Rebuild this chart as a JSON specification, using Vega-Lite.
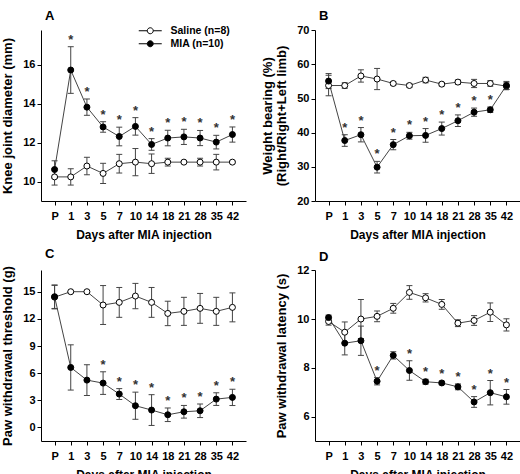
{
  "$schema": "https://vega.github.io/schema/vega-lite/v6.json",
  "padding": {"left": 1, "top": 9, "right": 0, "bottom": 0},
  "background": "white",
  "datasets": {
    "A": [
      {"day": "P", "group": "Saline (n=8)", "mean": 10.24, "lo": 9.82, "hi": 10.66, "sig": ""},
      {"day": "1", "group": "Saline (n=8)", "mean": 10.24, "lo": 9.82, "hi": 10.66, "sig": ""},
      {"day": "3", "group": "Saline (n=8)", "mean": 10.8, "lo": 10.35, "hi": 11.25, "sig": ""},
      {"day": "5", "group": "Saline (n=8)", "mean": 10.42, "lo": 9.9, "hi": 10.94, "sig": ""},
      {"day": "7", "group": "Saline (n=8)", "mean": 10.92, "lo": 10.44, "hi": 11.4, "sig": ""},
      {"day": "10", "group": "Saline (n=8)", "mean": 11.0, "lo": 10.3, "hi": 11.7, "sig": ""},
      {"day": "14", "group": "Saline (n=8)", "mean": 10.92, "lo": 10.42, "hi": 11.42, "sig": ""},
      {"day": "18", "group": "Saline (n=8)", "mean": 11.0, "lo": 10.8, "hi": 11.2, "sig": ""},
      {"day": "21", "group": "Saline (n=8)", "mean": 11.0, "lo": 10.95, "hi": 11.05, "sig": ""},
      {"day": "28", "group": "Saline (n=8)", "mean": 11.0, "lo": 10.8, "hi": 11.2, "sig": ""},
      {"day": "35", "group": "Saline (n=8)", "mean": 11.0, "lo": 10.6, "hi": 11.4, "sig": ""},
      {"day": "42", "group": "Saline (n=8)", "mean": 11.0, "lo": 10.95, "hi": 11.05, "sig": ""},
      {"day": "P", "group": "MIA (n=10)", "mean": 10.62, "lo": 10.17, "hi": 11.07, "sig": ""},
      {"day": "1", "group": "MIA (n=10)", "mean": 15.74, "lo": 14.54, "hi": 16.94, "sig": "*"},
      {"day": "3", "group": "MIA (n=10)", "mean": 13.83, "lo": 13.41, "hi": 14.25, "sig": "*"},
      {"day": "5", "group": "MIA (n=10)", "mean": 12.81, "lo": 12.54, "hi": 13.08, "sig": "*"},
      {"day": "7", "group": "MIA (n=10)", "mean": 12.32, "lo": 11.84, "hi": 12.8, "sig": "*"},
      {"day": "10", "group": "MIA (n=10)", "mean": 12.84, "lo": 12.39, "hi": 13.29, "sig": "*"},
      {"day": "14", "group": "MIA (n=10)", "mean": 11.91, "lo": 11.61, "hi": 12.21, "sig": "*"},
      {"day": "18", "group": "MIA (n=10)", "mean": 12.24, "lo": 11.84, "hi": 12.64, "sig": "*"},
      {"day": "21", "group": "MIA (n=10)", "mean": 12.3, "lo": 11.91, "hi": 12.69, "sig": "*"},
      {"day": "28", "group": "MIA (n=10)", "mean": 12.24, "lo": 11.85, "hi": 12.63, "sig": "*"},
      {"day": "35", "group": "MIA (n=10)", "mean": 12.03, "lo": 11.68, "hi": 12.38, "sig": "*"},
      {"day": "42", "group": "MIA (n=10)", "mean": 12.42, "lo": 12.03, "hi": 12.81, "sig": "*"}
    ],
    "B": [
      {"day": "P", "group": "Saline (n=8)", "mean": 53.8, "lo": 50.8, "hi": 56.8, "sig": ""},
      {"day": "1", "group": "Saline (n=8)", "mean": 53.8, "lo": 53.0, "hi": 54.6, "sig": ""},
      {"day": "3", "group": "Saline (n=8)", "mean": 56.6, "lo": 54.8, "hi": 58.4, "sig": ""},
      {"day": "5", "group": "Saline (n=8)", "mean": 55.7, "lo": 52.6, "hi": 58.8, "sig": ""},
      {"day": "7", "group": "Saline (n=8)", "mean": 54.4, "lo": 53.9, "hi": 54.9, "sig": ""},
      {"day": "10", "group": "Saline (n=8)", "mean": 53.8, "lo": 53.3, "hi": 54.3, "sig": ""},
      {"day": "14", "group": "Saline (n=8)", "mean": 55.4, "lo": 54.6, "hi": 56.2, "sig": ""},
      {"day": "18", "group": "Saline (n=8)", "mean": 54.2, "lo": 53.7, "hi": 54.7, "sig": ""},
      {"day": "21", "group": "Saline (n=8)", "mean": 54.8, "lo": 54.2, "hi": 55.4, "sig": ""},
      {"day": "28", "group": "Saline (n=8)", "mean": 54.4, "lo": 53.2, "hi": 55.6, "sig": ""},
      {"day": "35", "group": "Saline (n=8)", "mean": 54.4, "lo": 53.6, "hi": 55.2, "sig": ""},
      {"day": "42", "group": "Saline (n=8)", "mean": 53.6, "lo": 52.6, "hi": 54.6, "sig": ""},
      {"day": "P", "group": "MIA (n=10)", "mean": 55.1, "lo": 52.9, "hi": 57.3, "sig": ""},
      {"day": "1", "group": "MIA (n=10)", "mean": 37.7, "lo": 36.0, "hi": 39.4, "sig": "*"},
      {"day": "3", "group": "MIA (n=10)", "mean": 39.4, "lo": 37.3, "hi": 41.5, "sig": "*"},
      {"day": "5", "group": "MIA (n=10)", "mean": 29.9, "lo": 28.2, "hi": 31.6, "sig": "*"},
      {"day": "7", "group": "MIA (n=10)", "mean": 36.5, "lo": 35.0, "hi": 38.0, "sig": "*"},
      {"day": "10", "group": "MIA (n=10)", "mean": 39.1, "lo": 38.1, "hi": 40.1, "sig": "*"},
      {"day": "14", "group": "MIA (n=10)", "mean": 39.2, "lo": 37.2, "hi": 41.2, "sig": "*"},
      {"day": "18", "group": "MIA (n=10)", "mean": 41.2, "lo": 39.3, "hi": 43.1, "sig": "*"},
      {"day": "21", "group": "MIA (n=10)", "mean": 43.5, "lo": 41.8, "hi": 45.2, "sig": "*"},
      {"day": "28", "group": "MIA (n=10)", "mean": 46.0, "lo": 44.8, "hi": 47.2, "sig": "*"},
      {"day": "35", "group": "MIA (n=10)", "mean": 46.7, "lo": 45.9, "hi": 47.5, "sig": "*"},
      {"day": "42", "group": "MIA (n=10)", "mean": 53.8, "lo": 52.6, "hi": 55.0, "sig": ""}
    ],
    "C": [
      {"day": "P", "group": "Saline (n=8)", "mean": 14.4, "lo": 13.1, "hi": 15.7, "sig": ""},
      {"day": "1", "group": "Saline (n=8)", "mean": 15.0, "lo": 15.0, "hi": 15.0, "sig": ""},
      {"day": "3", "group": "Saline (n=8)", "mean": 15.0, "lo": 15.0, "hi": 15.0, "sig": ""},
      {"day": "5", "group": "Saline (n=8)", "mean": 13.53, "lo": 11.38, "hi": 15.68, "sig": ""},
      {"day": "7", "group": "Saline (n=8)", "mean": 13.82, "lo": 12.17, "hi": 15.47, "sig": ""},
      {"day": "10", "group": "Saline (n=8)", "mean": 14.52, "lo": 13.12, "hi": 15.92, "sig": ""},
      {"day": "14", "group": "Saline (n=8)", "mean": 13.82, "lo": 12.17, "hi": 15.47, "sig": ""},
      {"day": "18", "group": "Saline (n=8)", "mean": 12.6, "lo": 11.25, "hi": 13.95, "sig": ""},
      {"day": "21", "group": "Saline (n=8)", "mean": 12.83, "lo": 11.28, "hi": 14.38, "sig": ""},
      {"day": "28", "group": "Saline (n=8)", "mean": 13.16, "lo": 11.51, "hi": 14.81, "sig": ""},
      {"day": "35", "group": "Saline (n=8)", "mean": 12.83, "lo": 11.28, "hi": 14.38, "sig": ""},
      {"day": "42", "group": "Saline (n=8)", "mean": 13.27, "lo": 11.67, "hi": 14.87, "sig": ""},
      {"day": "P", "group": "MIA (n=10)", "mean": 14.45, "lo": 13.15, "hi": 15.75, "sig": ""},
      {"day": "1", "group": "MIA (n=10)", "mean": 6.63, "lo": 4.13, "hi": 9.13, "sig": ""},
      {"day": "3", "group": "MIA (n=10)", "mean": 5.23, "lo": 3.53, "hi": 6.93, "sig": ""},
      {"day": "5", "group": "MIA (n=10)", "mean": 4.9, "lo": 3.65, "hi": 6.15, "sig": "*"},
      {"day": "7", "group": "MIA (n=10)", "mean": 3.69, "lo": 3.09, "hi": 4.29, "sig": "*"},
      {"day": "10", "group": "MIA (n=10)", "mean": 2.4, "lo": 0.9, "hi": 3.9, "sig": "*"},
      {"day": "14", "group": "MIA (n=10)", "mean": 1.92, "lo": 0.22, "hi": 3.62, "sig": "*"},
      {"day": "18", "group": "MIA (n=10)", "mean": 1.4, "lo": 0.65, "hi": 2.15, "sig": "*"},
      {"day": "21", "group": "MIA (n=10)", "mean": 1.73, "lo": 1.03, "hi": 2.43, "sig": "*"},
      {"day": "28", "group": "MIA (n=10)", "mean": 1.84, "lo": 1.09, "hi": 2.59, "sig": "*"},
      {"day": "35", "group": "MIA (n=10)", "mean": 3.13, "lo": 2.43, "hi": 3.83, "sig": "*"},
      {"day": "42", "group": "MIA (n=10)", "mean": 3.32, "lo": 2.42, "hi": 4.22, "sig": "*"}
    ],
    "D": [
      {"day": "P", "group": "Saline (n=8)", "mean": 9.9, "lo": 9.75, "hi": 10.05, "sig": ""},
      {"day": "1", "group": "Saline (n=8)", "mean": 9.46, "lo": 9.04, "hi": 9.88, "sig": ""},
      {"day": "3", "group": "Saline (n=8)", "mean": 10.0, "lo": 9.2, "hi": 10.8, "sig": ""},
      {"day": "5", "group": "Saline (n=8)", "mean": 10.11, "lo": 9.89, "hi": 10.33, "sig": ""},
      {"day": "7", "group": "Saline (n=8)", "mean": 10.44, "lo": 10.24, "hi": 10.64, "sig": ""},
      {"day": "10", "group": "Saline (n=8)", "mean": 11.09, "lo": 10.81, "hi": 11.37, "sig": ""},
      {"day": "14", "group": "Saline (n=8)", "mean": 10.87, "lo": 10.7, "hi": 11.04, "sig": ""},
      {"day": "18", "group": "Saline (n=8)", "mean": 10.6, "lo": 10.4, "hi": 10.8, "sig": ""},
      {"day": "21", "group": "Saline (n=8)", "mean": 9.83, "lo": 9.69, "hi": 9.97, "sig": ""},
      {"day": "28", "group": "Saline (n=8)", "mean": 9.94, "lo": 9.74, "hi": 10.14, "sig": ""},
      {"day": "35", "group": "Saline (n=8)", "mean": 10.28, "lo": 9.9, "hi": 10.66, "sig": ""},
      {"day": "42", "group": "Saline (n=8)", "mean": 9.76, "lo": 9.51, "hi": 10.01, "sig": ""},
      {"day": "P", "group": "MIA (n=10)", "mean": 10.06, "lo": 9.96, "hi": 10.16, "sig": ""},
      {"day": "1", "group": "MIA (n=10)", "mean": 9.01, "lo": 8.53, "hi": 9.49, "sig": ""},
      {"day": "3", "group": "MIA (n=10)", "mean": 9.11, "lo": 8.51, "hi": 9.71, "sig": ""},
      {"day": "5", "group": "MIA (n=10)", "mean": 7.45, "lo": 7.3, "hi": 7.6, "sig": "*"},
      {"day": "7", "group": "MIA (n=10)", "mean": 8.51, "lo": 8.36, "hi": 8.66, "sig": ""},
      {"day": "10", "group": "MIA (n=10)", "mean": 7.89, "lo": 7.49, "hi": 8.29, "sig": "*"},
      {"day": "14", "group": "MIA (n=10)", "mean": 7.43, "lo": 7.33, "hi": 7.53, "sig": "*"},
      {"day": "18", "group": "MIA (n=10)", "mean": 7.38, "lo": 7.31, "hi": 7.45, "sig": "*"},
      {"day": "21", "group": "MIA (n=10)", "mean": 7.22, "lo": 7.1, "hi": 7.34, "sig": "*"},
      {"day": "28", "group": "MIA (n=10)", "mean": 6.6, "lo": 6.38, "hi": 6.82, "sig": "*"},
      {"day": "35", "group": "MIA (n=10)", "mean": 6.98, "lo": 6.48, "hi": 7.48, "sig": "*"},
      {"day": "42", "group": "MIA (n=10)", "mean": 6.81, "lo": 6.51, "hi": 7.11, "sig": "*"}
    ]
  },
  "columns": 2,
  "spacing": {"row": 69, "column": 69},
  "bounds": "flush",
  "resolve": {"scale": {"fill": "independent"}, "legend": {"fill": "independent"}},
  "concat": [
    {
      "title": {"text": "A", "offset": 2.5},
      "width": 205,
      "height": 171,
      "data": {"name": "A"},
      "encoding": {
        "x": {"field": "day", "type": "ordinal",
          "scale": {"type": "point", "domain": ["P", "1", "3", "5", "7", "10", "14", "18", "21", "28", "35", "42"], "padding": 0.84},
          "axis": {"title": "Days after MIA injection"}}
      },
      "layer": [
        {"mark": {"type": "line", "color": "#444", "strokeWidth": 1},
          "encoding": {
            "y": {"field": "mean", "type": "quantitative", "scale": {"domain": [9, 17.8], "nice": false, "zero": false},
              "axis": {"title": "Knee joint diameter (mm)", "values": [10, 12, 14, 16], "tickCount": 20, "format": "d"}},
            "detail": {"field": "group"},
            "order": {"value": null}}},
        {"mark": {"type": "rule", "color": "#444", "strokeWidth": 1},
          "encoding": {"y": {"field": "lo", "type": "quantitative"}, "y2": {"field": "hi"}}},
        {"mark": {"type": "tick", "color": "#444", "size": 6, "thickness": 1, "opacity": 1},
          "encoding": {"y": {"field": "lo", "type": "quantitative"}}},
        {"mark": {"type": "tick", "color": "#444", "size": 6, "thickness": 1, "opacity": 1},
          "encoding": {"y": {"field": "hi", "type": "quantitative"}}},
        {"mark": {"type": "point", "filled": true, "size": 36, "stroke": "#000", "strokeWidth": 1, "opacity": 1},
          "encoding": {
            "y": {"field": "mean", "type": "quantitative"},
            "fill": {"field": "group", "type": "nominal",
              "scale": {"domain": ["Saline (n=8)", "MIA (n=10)"], "range": ["#ffffff", "#000000"]},
              "legend": {"orient": "none", "legendX": 104, "legendY": -4.5, "title": null,
                "symbolType": "M-3.83,0H-1M1,0H3.83M1,0A1,1,0,1,1,-1,0A1,1,0,1,1,1,0",
                "symbolSize": 36, "symbolStrokeColor": "#000", "symbolStrokeWidth": 1,
                "labelFontSize": 10.5, "labelFontWeight": "bold", "labelColor": "#000",
                "rowPadding": 2, "labelOffset": 15}}}},
        {"mark": {"type": "text", "dy": -3, "baseline": "alphabetic", "fontSize": 13, "fontWeight": "bold", "color": "#333"},
          "encoding": {"y": {"field": "hi", "type": "quantitative"}, "text": {"field": "sig"}}}
      ]
    },
    {
      "title": {"text": "B", "offset": 1.5},
      "width": 205,
      "height": 171,
      "data": {"name": "B"},
      "encoding": {
        "x": {"field": "day", "type": "ordinal",
          "scale": {"type": "point", "domain": ["P", "1", "3", "5", "7", "10", "14", "18", "21", "28", "35", "42"], "padding": 0.84},
          "axis": {"title": "Days after MIA injection"}}
      },
      "layer": [
        {"mark": {"type": "line", "color": "#444", "strokeWidth": 1},
          "encoding": {
            "y": {"field": "mean", "type": "quantitative", "scale": {"domain": [20, 70.05], "nice": false, "zero": false},
              "axis": {"title": ["Weight bearing (%)", "(Right/Right+Left limb)"], "values": [20, 30, 40, 50, 60, 70], "tickCount": 20, "format": "d"}},
            "detail": {"field": "group"},
            "order": {"value": null}}},
        {"mark": {"type": "rule", "color": "#444", "strokeWidth": 1},
          "encoding": {"y": {"field": "lo", "type": "quantitative"}, "y2": {"field": "hi"}}},
        {"mark": {"type": "tick", "color": "#444", "size": 6, "thickness": 1, "opacity": 1},
          "encoding": {"y": {"field": "lo", "type": "quantitative"}}},
        {"mark": {"type": "tick", "color": "#444", "size": 6, "thickness": 1, "opacity": 1},
          "encoding": {"y": {"field": "hi", "type": "quantitative"}}},
        {"mark": {"type": "point", "filled": true, "size": 36, "stroke": "#000", "strokeWidth": 1, "opacity": 1},
          "encoding": {
            "y": {"field": "mean", "type": "quantitative"},
            "fill": {"field": "group", "type": "nominal",
              "scale": {"domain": ["Saline (n=8)", "MIA (n=10)"], "range": ["#ffffff", "#000000"]},
              "legend": null}}},
        {"mark": {"type": "text", "dy": -3, "baseline": "alphabetic", "fontSize": 13, "fontWeight": "bold", "color": "#333"},
          "encoding": {"y": {"field": "hi", "type": "quantitative"}, "text": {"field": "sig"}}}
      ]
    },
    {
      "title": {"text": "C", "offset": 5},
      "width": 205,
      "height": 171,
      "data": {"name": "C"},
      "encoding": {
        "x": {"field": "day", "type": "ordinal",
          "scale": {"type": "point", "domain": ["P", "1", "3", "5", "7", "10", "14", "18", "21", "28", "35", "42"], "padding": 0.84},
          "axis": {"title": "Days after MIA injection"}}
      },
      "layer": [
        {"mark": {"type": "line", "color": "#444", "strokeWidth": 1},
          "encoding": {
            "y": {"field": "mean", "type": "quantitative", "scale": {"domain": [-1.5, 17.4], "nice": false, "zero": false},
              "axis": {"title": "Paw withdrawal threshold (g)", "values": [0, 3, 6, 9, 12, 15], "tickCount": 20, "format": "d"}},
            "detail": {"field": "group"},
            "order": {"value": null}}},
        {"mark": {"type": "rule", "color": "#444", "strokeWidth": 1},
          "encoding": {"y": {"field": "lo", "type": "quantitative"}, "y2": {"field": "hi"}}},
        {"mark": {"type": "tick", "color": "#444", "size": 6, "thickness": 1, "opacity": 1},
          "encoding": {"y": {"field": "lo", "type": "quantitative"}}},
        {"mark": {"type": "tick", "color": "#444", "size": 6, "thickness": 1, "opacity": 1},
          "encoding": {"y": {"field": "hi", "type": "quantitative"}}},
        {"mark": {"type": "point", "filled": true, "size": 36, "stroke": "#000", "strokeWidth": 1, "opacity": 1},
          "encoding": {
            "y": {"field": "mean", "type": "quantitative"},
            "fill": {"field": "group", "type": "nominal",
              "scale": {"domain": ["Saline (n=8)", "MIA (n=10)"], "range": ["#ffffff", "#000000"]},
              "legend": null}}},
        {"mark": {"type": "text", "dy": -3, "baseline": "alphabetic", "fontSize": 13, "fontWeight": "bold", "color": "#333"},
          "encoding": {"y": {"field": "hi", "type": "quantitative"}, "text": {"field": "sig"}}}
      ]
    },
    {
      "title": {"text": "D", "offset": 0},
      "width": 205,
      "height": 171,
      "data": {"name": "D"},
      "encoding": {
        "x": {"field": "day", "type": "ordinal",
          "scale": {"type": "point", "domain": ["P", "1", "3", "5", "7", "10", "14", "18", "21", "28", "35", "42"], "padding": 0.84},
          "axis": {"title": "Days after MIA injection"}}
      },
      "layer": [
        {"mark": {"type": "line", "color": "#444", "strokeWidth": 1},
          "encoding": {
            "y": {"field": "mean", "type": "quantitative", "scale": {"domain": [5, 12.01], "nice": false, "zero": false},
              "axis": {"title": "Paw withdrawal latency (s)", "values": [6, 8, 10, 12], "tickCount": 20, "format": "d"}},
            "detail": {"field": "group"},
            "order": {"value": null}}},
        {"mark": {"type": "rule", "color": "#444", "strokeWidth": 1},
          "encoding": {"y": {"field": "lo", "type": "quantitative"}, "y2": {"field": "hi"}}},
        {"mark": {"type": "tick", "color": "#444", "size": 6, "thickness": 1, "opacity": 1},
          "encoding": {"y": {"field": "lo", "type": "quantitative"}}},
        {"mark": {"type": "tick", "color": "#444", "size": 6, "thickness": 1, "opacity": 1},
          "encoding": {"y": {"field": "hi", "type": "quantitative"}}},
        {"mark": {"type": "point", "filled": true, "size": 36, "stroke": "#000", "strokeWidth": 1, "opacity": 1},
          "encoding": {
            "y": {"field": "mean", "type": "quantitative"},
            "fill": {"field": "group", "type": "nominal",
              "scale": {"domain": ["Saline (n=8)", "MIA (n=10)"], "range": ["#ffffff", "#000000"]},
              "legend": null}}},
        {"mark": {"type": "text", "dy": -3, "baseline": "alphabetic", "fontSize": 13, "fontWeight": "bold", "color": "#333"},
          "encoding": {"y": {"field": "hi", "type": "quantitative"}, "text": {"field": "sig"}}}
      ]
    }
  ],
  "config": {
    "font": "Liberation Sans",
    "view": {"stroke": null, "fill": null},
    "axis": {
      "grid": false,
      "domainColor": "#000",
      "domainWidth": 1,
      "tickColor": "#000",
      "tickSize": 4,
      "labelOverlap": false,
      "labelBound": false,
      "labelFont": "Liberation Sans",
      "labelFontSize": 11,
      "labelFontWeight": "bold",
      "labelColor": "#000",
      "titleFont": "Liberation Sans",
      "titleFontSize": 13,
      "titleFontWeight": "bold",
      "titleColor": "#000"
    },
    "axisX": {"labelAngle": 0, "labelPadding": 5, "titlePadding": 8, "titleFontSize": 12},
    "axisY": {"labelPadding": 2, "titlePadding": 8, "titleLineHeight": 14, "labelFlush": false},
    "title": {
      "font": "Liberation Sans",
      "fontSize": 13,
      "fontWeight": "bold",
      "color": "#000",
      "anchor": "start",
      "frame": "group",
      "baseline": "alphabetic",
      "dx": 4
    }
  }
}
